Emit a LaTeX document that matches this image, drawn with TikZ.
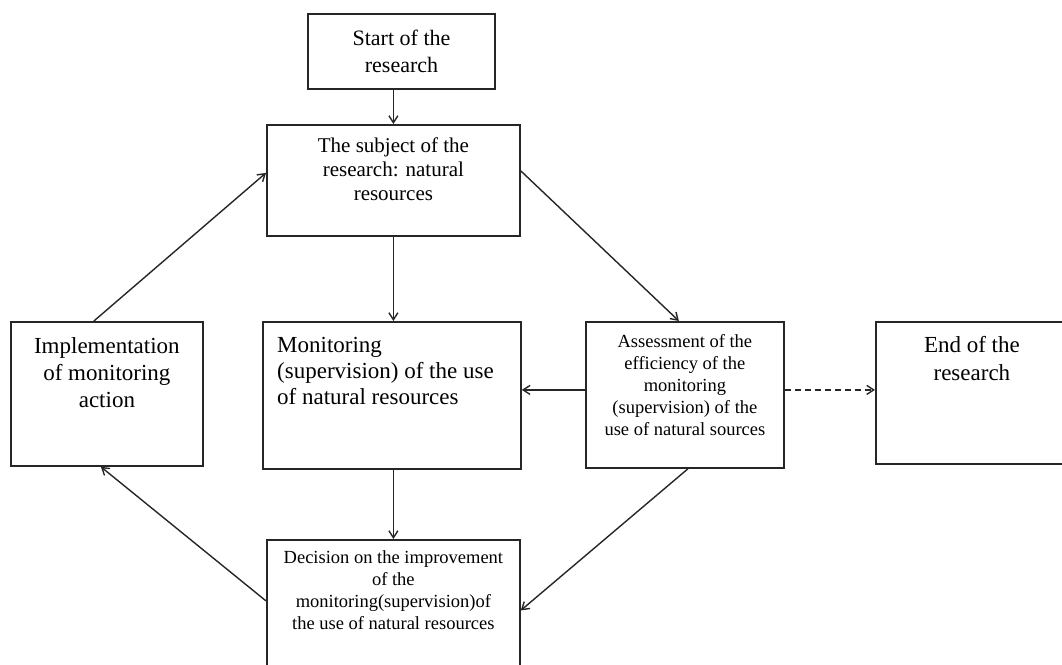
\documentclass[tikz,border=0pt]{standalone}
\usepackage{fontspec}
\setmainfont{Liberation Serif}
\usetikzlibrary{arrows.meta,positioning}

\begin{document}
\begin{tikzpicture}[x=1pt,y=-1pt,>={Straight Barb[length=7pt,width=9pt]},
  box/.style={draw=black!85,line width=1.8pt,inner sep=0pt},
  lbl/.style={align=center,inner sep=0pt,anchor=north},
  conn/.style={->,line width=1.4pt,black!85}]
\useasboundingbox (0,0) rectangle (1062,664);
\clip (0,0) rectangle (1062,664);
% boxes
\node[box,minimum width=187pt,minimum height=75pt,align=center,
  font=\fontsize{22}{27}\selectfont] (start) at (401.5,51.5) {Start of the\\research};
\node[box,minimum width=253pt,minimum height=111pt,anchor=north west,
  label={[lbl,yshift=-13.5pt,font=\fontsize{21}{24}\selectfont]north:{The subject of the\\research: natural\\resources}}]
  (subject) at (266,124) {};
\node[box,minimum width=192pt,minimum height=144pt,anchor=north west,
  label={[lbl,yshift=-16.5pt,font=\fontsize{23}{27}\selectfont]north:{Implementation\\of monitoring\\action}}]
  (impl) at (10,321) {};
\node[box,minimum width=258pt,minimum height=147pt,anchor=north west,
  label={[lbl,align=left,anchor=north west,xshift=15pt,yshift=-16.5pt,font=\fontsize{23}{26}\selectfont]north west:{Monitoring\\(supervision) of the use\\of natural resources}}]
  (monitoring) at (262,321) {};
\node[box,minimum width=198pt,minimum height=146pt,anchor=north west,
  label={[lbl,yshift=-13.5pt,font=\fontsize{18.5}{22}\selectfont]north:{Assessment of the\\efficiency of the\\monitoring\\(supervision) of the\\use of natural sources}}]
  (assess) at (585,321) {};
\node[box,minimum width=192pt,minimum height=142pt,anchor=north west,
  label={[lbl,yshift=-15.5pt,font=\fontsize{23}{28}\selectfont]north:{End of the\\research}}]
  (end) at (875,321) {};
\node[box,minimum width=253pt,minimum height=141pt,anchor=north west,
  label={[lbl,yshift=-11.5pt,font=\fontsize{18.5}{22}\selectfont]north:{Decision on the improvement\\of the\\monitoring(supervision)of\\the use of natural resources}}]
  (decision) at (266,539) {};
% arrows
\draw[conn] (start.south -| subject.north) -- (subject.north);
\draw[conn] (subject.south) -- (subject.south |- monitoring.north);
\draw[conn] (subject.south |- monitoring.south) -- (decision.north);
\draw[conn] ([yshift=9.5pt]subject.east) -- ([xshift=-6pt]assess.north);
\draw[conn] ([yshift=5pt]assess.west) -- ([yshift=5pt]assess.west -| monitoring.east);
\draw[conn,dash pattern=on 6pt off 4pt] ([yshift=5pt]assess.east) -- ([yshift=5pt]assess.east -| end.west);
\draw[conn] ([xshift=3pt]assess.south) -- (decision.east);
\draw[conn] ([yshift=9.5pt]decision.west) -- ([xshift=-6pt]impl.south);
\draw[conn] ([xshift=-13pt]impl.north) -- ([yshift=7.5pt]subject.west);
\end{tikzpicture}
\end{document}
